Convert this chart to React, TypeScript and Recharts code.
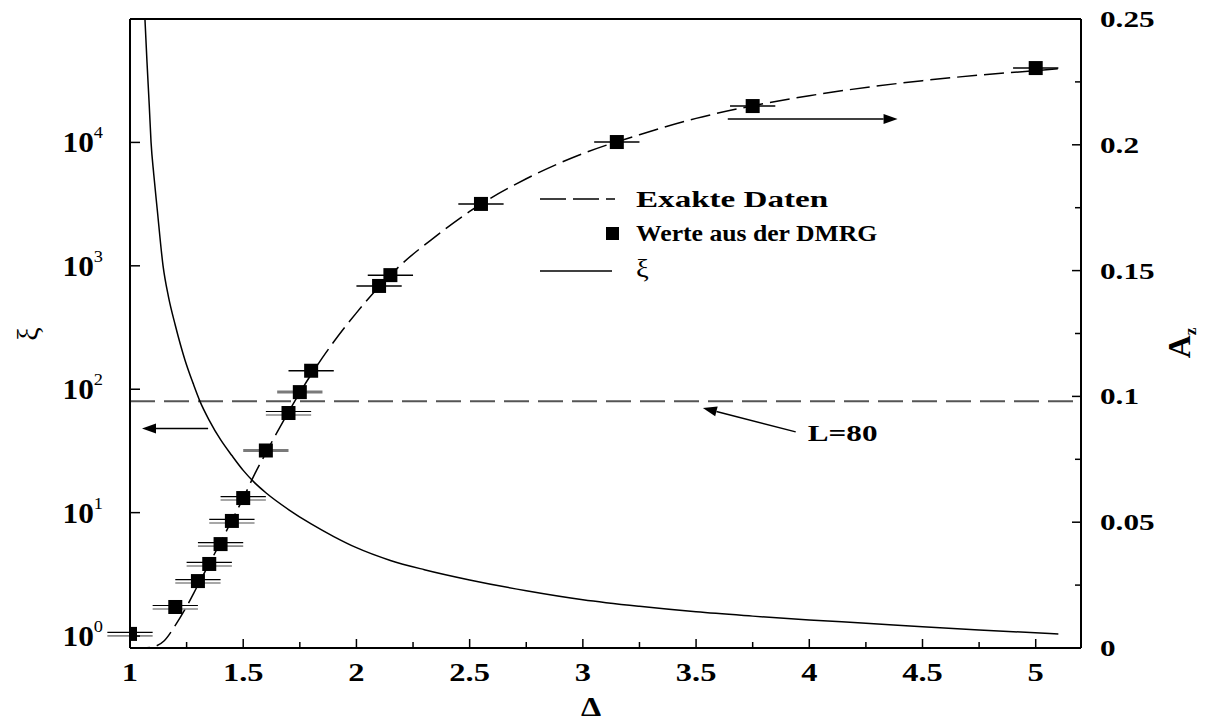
import React from 'react';
import {
  ComposedChart,
  Line,
  Scatter,
  XAxis,
  YAxis,
  ErrorBar,
  ReferenceLine,
  Legend,
} from 'recharts';

const SERIF = "'Liberation Serif', 'Times New Roman', Times, serif";

// correlation length xi (left, log axis)
const xiCurve = [
  { d: 1.066, xi: 100000 },
  { d: 1.075, xi: 45000 },
  { d: 1.085, xi: 20000 },
  { d: 1.093, xi: 10000 },
  { d: 1.105, xi: 5500 },
  { d: 1.12, xi: 2900 },
  { d: 1.146, xi: 1000 },
  { d: 1.17, xi: 560 },
  { d: 1.2, xi: 330 },
  { d: 1.243, xi: 172 },
  { d: 1.28, xi: 110 },
  { d: 1.31, xi: 79 },
  { d: 1.35, xi: 56 },
  { d: 1.4, xi: 39 },
  { d: 1.45, xi: 29 },
  { d: 1.5, xi: 22 },
  { d: 1.55, xi: 17.5 },
  { d: 1.6, xi: 14.5 },
  { d: 1.7, xi: 10.6 },
  { d: 1.8, xi: 8.1 },
  { d: 1.9, xi: 6.4 },
  { d: 2.0, xi: 5.2 },
  { d: 2.15, xi: 4.1 },
  { d: 2.3, xi: 3.45 },
  { d: 2.5, xi: 2.85 },
  { d: 2.75, xi: 2.33 },
  { d: 3.0, xi: 1.97 },
  { d: 3.25, xi: 1.74 },
  { d: 3.5, xi: 1.57 },
  { d: 3.75, xi: 1.45 },
  { d: 4.0, xi: 1.35 },
  { d: 4.25, xi: 1.27 },
  { d: 4.5, xi: 1.19 },
  { d: 4.75, xi: 1.12 },
  { d: 5.1, xi: 1.04 },
];

// exact A_z (right axis)
const exactCurve = [
  { d: 1.0, az: 0 },
  { d: 1.06, az: 0.00005 },
  { d: 1.1, az: 0.0004 },
  { d: 1.15, az: 0.0028 },
  { d: 1.2, az: 0.009 },
  { d: 1.25, az: 0.0165 },
  { d: 1.3, az: 0.025 },
  { d: 1.35, az: 0.0335 },
  { d: 1.4, az: 0.042 },
  { d: 1.45, az: 0.0508 },
  { d: 1.5, az: 0.0595 },
  { d: 1.55, az: 0.069 },
  { d: 1.6, az: 0.0775 },
  { d: 1.65, az: 0.0858 },
  { d: 1.7, az: 0.0938 },
  { d: 1.75, az: 0.1015 },
  { d: 1.8, az: 0.1087 },
  { d: 1.85, az: 0.1154 },
  { d: 1.9, az: 0.1217 },
  { d: 2.0, az: 0.1332 },
  { d: 2.1, az: 0.1436 },
  { d: 2.2, az: 0.1526 },
  { d: 2.35, az: 0.1636 },
  { d: 2.5, az: 0.1735 },
  { d: 2.75, az: 0.1865 },
  { d: 3.0, az: 0.1965 },
  { d: 3.25, az: 0.204 },
  { d: 3.5, az: 0.2105 },
  { d: 3.75, az: 0.2155 },
  { d: 4.0, az: 0.2195 },
  { d: 4.5, az: 0.2255 },
  { d: 5.0, az: 0.2295 },
  { d: 5.1, az: 0.2302 },
];

// DMRG values with horizontal error bars
const dmrgDouble = [
  { d: 1.0, az: 0.0056, err: 0.1 },
  { d: 1.2, az: 0.0163, err: 0.1 },
  { d: 1.3, az: 0.0266, err: 0.1 },
  { d: 1.35, az: 0.0334, err: 0.1 },
  { d: 1.4, az: 0.0413, err: 0.1 },
  { d: 1.45, az: 0.0505, err: 0.1 },
  { d: 1.5, az: 0.0596, err: 0.1 },
  { d: 1.7, az: 0.0934, err: 0.1 },
];
const dmrgGray = [
  { d: 1.6, az: 0.0785, err: 0.1 },
  { d: 1.75, az: 0.1017, err: 0.1 },
];
const dmrgBlack = [
  { d: 1.8, az: 0.1102, err: 0.1 },
  { d: 2.1, az: 0.1439, err: 0.1 },
  { d: 2.15, az: 0.1482, err: 0.1 },
  { d: 2.55, az: 0.1765, err: 0.1 },
  { d: 3.15, az: 0.2011, err: 0.1 },
  { d: 3.75, az: 0.2154, err: 0.1 },
  { d: 5.0, az: 0.2305, err: 0.1 },
];

const xTicks = [1, 1.25, 1.5, 1.75, 2, 2.25, 2.5, 2.75, 3, 3.25, 3.5, 3.75, 4, 4.25, 4.5, 4.75, 5];
const leftTicks = [1, 10, 100, 1000, 10000];
const leftTickExp = ['0', '1', '2', '3', '4'];
const rightTicks = [0, 0.025, 0.05, 0.075, 0.1, 0.125, 0.15, 0.175, 0.2, 0.225, 0.25];
const rightTickLabels = ['0', '', '0.05', '', '0.1', '', '0.15', '', '0.2', '', '0.25'];

const L80 = 80;
const arrowLeft = [{ x: 1.345, y: 48 }, { x: 1.053, y: 48 }];
const arrowRight = [{ x: 3.64, y: 0.2103 }, { x: 4.39, y: 0.2103 }];
const arrowL80 = [{ x: 3.94, y: 0.0859 }, { x: 3.53, y: 0.0954 }];

const STRETCH = 1.3;

const isMajorX = (v: number) => Math.abs(v * 2 - Math.round(v * 2)) < 1e-6;

const SText = ({ x, y, sx = STRETCH, anchor = 'start', size = 24, bold = true, children }: any) => (
  <text
    transform={`translate(${x},${y}) scale(${sx},1)`}
    x={0}
    y={0}
    textAnchor={anchor}
    fontFamily={SERIF}
    fontWeight={bold ? 'bold' : 'normal'}
    fontSize={size}
    fill="#000"
  >
    {children}
  </text>
);

const BottomTick = (props: any) => {
  const { x, y, payload } = props;
  const v = payload.value;
  const major = isMajorX(v);
  return (
    <g>
      <line x1={x} x2={x} y1={y} y2={y - (major ? 9 : 6)} stroke="#000" strokeWidth={1.5} />
      {major && (
        <SText x={x} y={y + 33} anchor="middle" size={26} sx={1.25}>
          {String(v)}
        </SText>
      )}
    </g>
  );
};

const TopTick = (props: any) => {
  const { x, y, payload } = props;
  const major = isMajorX(payload.value);
  return <line x1={x} x2={x} y1={y} y2={y + (major ? 9 : 6)} stroke="#000" strokeWidth={1.5} />;
};

const LeftTick = (props: any) => {
  const { x, y, index } = props;
  return (
    <g>
      <line x1={x} x2={x + 10} y1={y} y2={y} stroke="#000" strokeWidth={1.5} />
      <text transform={`translate(${x - 27},${y + 10}) scale(1.08,1)`} x={0} y={0} textAnchor="end" fontFamily={SERIF} fill="#000">
        <tspan fontWeight="bold" fontSize={29}>10</tspan>
        <tspan dy={-14} fontSize={17}>{leftTickExp[index]}</tspan>
      </text>
    </g>
  );
};

const RightTick = (props: any) => {
  const { x, y, index } = props;
  const label = rightTickLabels[index];
  const major = label !== '';
  return (
    <g>
      <line x1={x} x2={x - (major ? 9 : 6)} y1={y} y2={y} stroke="#000" strokeWidth={1.5} />
      {major && (
        <SText x={x + 19} y={y + 8} size={24} sx={1.3}>
          {label}
        </SText>
      )}
    </g>
  );
};

const makeArrow = (label?: string) => (p: any) => {
  const { x1, y1, x2, y2 } = p;
  const ang = Math.atan2(y2 - y1, x2 - x1);
  const L = 14;
  const W = 5;
  const bx = x2 - L * Math.cos(ang);
  const by = y2 - L * Math.sin(ang);
  const px = -Math.sin(ang) * W;
  const py = Math.cos(ang) * W;
  return (
    <g>
      <line x1={x1} y1={y1} x2={bx} y2={by} stroke="#000" strokeWidth={1.5} />
      <polygon points={`${x2},${y2} ${bx + px},${by + py} ${bx - px},${by - py}`} fill="#000" />
      {label && (
        <SText x={x1 + 12} y={y1 + 9} size={24}>
          {label}
        </SText>
      )}
    </g>
  );
};

const squareShape = (p: any) => <rect x={p.cx - 7} y={p.cy - 7} width={14} height={14} fill="#000" />;

const LegendContent = () => (
  <svg width={460} height={115} style={{ overflow: 'visible' }}>
    <line x1={10} x2={85} y1={19} y2={19} stroke="#000" strokeWidth={1.5} strokeDasharray="26 7" />
    <SText x={106} y={27} size={24} sx={1.38}>Exakte Daten</SText>
    <rect x={76} y={47} width={13} height={13} fill="#000" />
    <SText x={106} y={61} size={24} sx={1.07}>Werte aus der DMRG</SText>
    <line x1={10} x2={82} y1={91} y2={91} stroke="#000" strokeWidth={1.5} />
    <SText x={106} y={97} size={26} sx={1.1} bold={false}>ξ</SText>
  </svg>
);

export default function App() {
  return (
    <div style={{ position: 'absolute', left: 0, top: 0, width: 1205, height: 723, background: '#fff' }}>
      <ComposedChart width={1205} height={723} margin={{ top: 18, right: 0, bottom: 0, left: 0 }}>
        <XAxis
          xAxisId="bottom"
          type="number"
          dataKey="d"
          domain={[1, 5.2]}
          allowDataOverflow
          ticks={xTicks}
          interval={0}
          height={75}
          tickSize={0}
          tickMargin={0}
          tickLine={false}
          tick={<BottomTick />}
          axisLine={{ stroke: '#000', strokeWidth: 2 }}
          label={{
            content: () => (
              <SText x={591} y={716} anchor="middle" size={28} sx={1.15}>
                Δ
              </SText>
            ),
          }}
        />
        <XAxis
          xAxisId="top"
          orientation="top"
          type="number"
          domain={[1, 5.2]}
          allowDataOverflow
          ticks={xTicks}
          interval={0}
          height={1}
          tickSize={0}
          tickMargin={0}
          tickLine={false}
          tick={<TopTick />}
          axisLine={{ stroke: '#000', strokeWidth: 2 }}
        />
        <YAxis
          yAxisId="left"
          type="number"
          scale="log"
          domain={[0.8, 100000]}
          allowDataOverflow
          ticks={leftTicks}
          interval={0}
          width={130}
          tickSize={0}
          tickMargin={0}
          tickLine={false}
          tick={<LeftTick />}
          axisLine={{ stroke: '#000', strokeWidth: 2 }}
          label={{
            content: () => (
              <text
                x={27}
                y={334}
                transform="rotate(-90 27 334)"
                textAnchor="middle"
                dominantBaseline="central"
                fontFamily={SERIF}
                fontSize={30}
                fill="#000"
              >
                ξ
              </text>
            ),
          }}
        />
        <YAxis
          yAxisId="right"
          orientation="right"
          type="number"
          domain={[0, 0.25]}
          allowDataOverflow
          ticks={rightTicks}
          interval={0}
          width={124}
          tickSize={0}
          tickMargin={0}
          tickLine={false}
          tick={<RightTick />}
          axisLine={{ stroke: '#000', strokeWidth: 2 }}
          label={{
            content: () => (
              <text
                x={1190}
                y={343}
                transform="rotate(-90 1190 343)"
                textAnchor="middle"
                fontFamily={SERIF}
                fontWeight="bold"
                fill="#000"
              >
                <tspan fontSize={32}>A</tspan>
                <tspan fontSize={17} dy={6}>z</tspan>
              </text>
            ),
          }}
        />

        <ReferenceLine
          xAxisId="bottom"
          yAxisId="left"
          y={L80}
          stroke="#555"
          strokeWidth={2}
          strokeDasharray="25 9"
        />

        <Line
          xAxisId="bottom"
          yAxisId="left"
          data={xiCurve}
          dataKey="xi"
          type="monotone"
          stroke="#000"
          strokeWidth={1.5}
          dot={false}
          isAnimationActive={false}
          legendType="none"
        />
        <Line
          xAxisId="bottom"
          yAxisId="right"
          data={exactCurve}
          dataKey="az"
          type="monotone"
          stroke="#000"
          strokeWidth={1.5}
          strokeDasharray="20 7"
          dot={false}
          isAnimationActive={false}
          legendType="none"
        />

        <Scatter
          xAxisId="bottom"
          yAxisId="right"
          data={dmrgDouble}
          dataKey="az"
          shape={squareShape}
          isAnimationActive={false}
          legendType="none"
        >
          <ErrorBar dataKey="err" direction="x" width={0} stroke="#8a8a8a" strokeWidth={1.6} transform="translate(0,2)" />
          <ErrorBar dataKey="err" direction="x" width={0} stroke="#000" strokeWidth={1.2} transform="translate(0,-1.5)" />
        </Scatter>
        <Scatter
          xAxisId="bottom"
          yAxisId="right"
          data={dmrgGray}
          dataKey="az"
          shape={squareShape}
          isAnimationActive={false}
          legendType="none"
        >
          <ErrorBar dataKey="err" direction="x" width={0} stroke="#7a7a7a" strokeWidth={3} />
        </Scatter>
        <Scatter
          xAxisId="bottom"
          yAxisId="right"
          data={dmrgBlack}
          dataKey="az"
          shape={squareShape}
          isAnimationActive={false}
          legendType="none"
        >
          <ErrorBar dataKey="err" direction="x" width={0} stroke="#000" strokeWidth={1.5} />
        </Scatter>

        <ReferenceLine xAxisId="bottom" yAxisId="left" segment={arrowLeft} shape={makeArrow()} />
        <ReferenceLine xAxisId="bottom" yAxisId="right" segment={arrowRight} shape={makeArrow()} />
        <ReferenceLine xAxisId="bottom" yAxisId="right" segment={arrowL80} shape={makeArrow('L=80')} />

        <Legend
          verticalAlign="middle"
          align="center"
          content={<LegendContent />}
          wrapperStyle={{ left: 530, top: 180, width: 460, height: 115 }}
        />
      </ComposedChart>
    </div>
  );
}
